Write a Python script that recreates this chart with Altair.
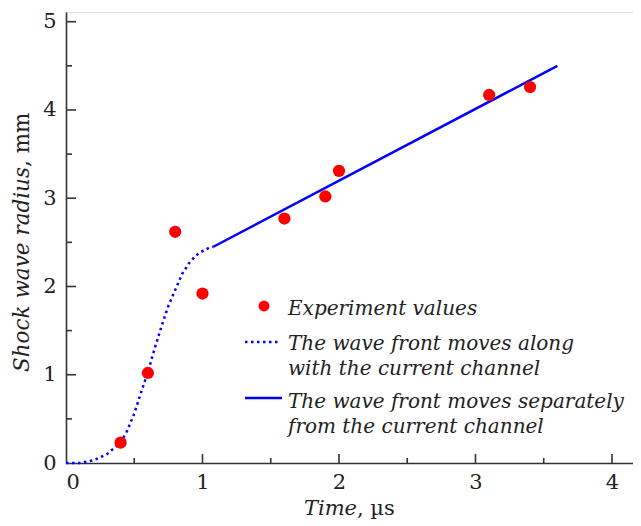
import altair as alt
import pandas as pd

# ---- data ----
exp_time = [0.4, 0.6, 0.8, 1.0, 1.6, 1.9, 2.0, 3.1, 3.4]
exp_radius = [0.23, 1.02, 2.62, 1.92, 2.77, 3.02, 3.31, 4.17, 4.26]

along_time = [0, 0.1, 0.2, 0.3, 0.4, 0.45, 0.5, 0.55, 0.6, 0.65, 0.7, 0.75,
              0.8, 0.85, 0.9, 0.95, 1.0, 1.05, 1.08]
along_radius = [0, 0.0, 0.03, 0.1, 0.23, 0.37, 0.56, 0.8, 1.03, 1.3, 1.55, 1.78,
                1.96, 2.14, 2.26, 2.35, 2.4, 2.44, 2.45]

separate_time = [1.08, 3.6]
separate_radius = [2.45, 4.5]

x_major = [1, 2, 3, 4]
x_minor = [0.5, 1.5, 2.5, 3.5]
y_major = [1, 2, 3, 4, 5]
y_minor = [0.5, 1.5, 2.5, 3.5, 4.5]
x_labels = [0, 1, 2, 3, 4]
y_labels = [0, 1, 2, 3, 4, 5]

legend_labels = [
    "Experiment values",
    "The wave front moves along\nwith the current channel",
    "The wave front moves separately\nfrom the current channel",
]
x_title = ["Time", ", \u00b5s"]
y_title = ["Shock wave radius", ", mm"]

FONT = "DejaVu Serif"
AX = "#333333"
TXT = "#222222"
BLUE = "#0000ff"
RED = "#ff0000"
W, H = 567, 451

xs = alt.Scale(domain=[0, 4.154], nice=False, zero=False)
ys = alt.Scale(domain=[0, 5.11], nice=False, zero=False)

x_axis = alt.Axis(values=x_labels, format="d", ticks=False, grid=False,
                  domainColor=AX, domainWidth=1.6, labelFont=FONT,
                  labelFontSize=21, labelColor=TXT, labelPadding=8,
                  title=None)
y_axis = alt.Axis(values=y_labels, format="d", ticks=False, grid=False,
                  domainColor=AX, domainWidth=1.6, labelFont=FONT,
                  labelFontSize=21, labelColor=TXT, labelPadding=10,
                  title=None)

exp_df = pd.DataFrame({"t": exp_time, "r": exp_radius})
along_df = pd.DataFrame({"t": along_time, "r": along_radius})
sep_df = pd.DataFrame({"t": separate_time, "r": separate_radius})

points = alt.Chart(exp_df).mark_circle(size=150, opacity=1, color=RED).encode(
    x=alt.X("t:Q", scale=xs, axis=x_axis),
    y=alt.Y("r:Q", scale=ys, axis=y_axis),
)

along = alt.Chart(along_df).mark_line(color=BLUE, strokeWidth=2.5,
                                      strokeDash=[2.5, 3.5]).encode(
    x=alt.X("t:Q", scale=xs, axis=x_axis),
    y=alt.Y("r:Q", scale=ys, axis=y_axis),
)

separate = alt.Chart(sep_df).mark_line(color=BLUE, strokeWidth=2.5).encode(
    x=alt.X("t:Q", scale=xs, axis=x_axis),
    y=alt.Y("r:Q", scale=ys, axis=y_axis),
)

def xticks(vals, length):
    return alt.Chart(pd.DataFrame({"v": vals})).mark_rule(
        color=AX, strokeWidth=1.6).encode(
        x=alt.X("v:Q", scale=xs, axis=x_axis),
        y=alt.value(H), y2=alt.value(H - length))

def yticks(vals, length):
    return alt.Chart(pd.DataFrame({"v": vals})).mark_rule(
        color=AX, strokeWidth=1.6).encode(
        y=alt.Y("v:Q", scale=ys, axis=y_axis),
        x=alt.value(0), x2=alt.value(length))

one = pd.DataFrame({"k": [0]})

XT_Y = 503

xt1 = alt.Chart(pd.DataFrame({"s": [x_title[0]]})).mark_text(
    font=FONT, fontSize=21, fontStyle="italic", align="right",
    baseline="alphabetic", color=TXT).encode(
    text="s:N", x=alt.value(291), y=alt.value(XT_Y))
xt2 = alt.Chart(pd.DataFrame({"s": [x_title[1]]})).mark_text(
    font=FONT, fontSize=21, align="left",
    baseline="alphabetic", color=TXT).encode(
    text="s:N", x=alt.value(291), y=alt.value(XT_Y))
yt1 = alt.Chart(pd.DataFrame({"s": [y_title[0]]})).mark_text(
    font=FONT, fontSize=21.5, fontStyle="italic", align="right", angle=270,
    baseline="alphabetic", color=TXT).encode(
    text="s:N", x=alt.value(-37), y=alt.value(155))
yt2 = alt.Chart(pd.DataFrame({"s": [y_title[1]]})).mark_text(
    font=FONT, fontSize=21.5, align="left", angle=270,
    baseline="alphabetic", color=TXT).encode(
    text="s:N", x=alt.value(-37), y=alt.value(155))

leg_dot = alt.Chart(one).mark_circle(size=120, opacity=1, color=RED).encode(
    x=alt.value(198), y=alt.value(294))
leg_dotted = alt.Chart(one).mark_rule(color=BLUE, strokeWidth=2.5,
                                      strokeDash=[2.5, 3.5]).encode(
    x=alt.value(179), x2=alt.value(214), y=alt.value(330))
leg_solid = alt.Chart(one).mark_rule(color=BLUE, strokeWidth=2.5).encode(
    x=alt.value(179), x2=alt.value(216), y=alt.value(386))

def leg_text(label, ypos):
    return alt.Chart(pd.DataFrame({"s": [label]})).mark_text(
        font=FONT, fontSize=20, fontStyle="italic", align="left",
        baseline="alphabetic", lineBreak="\n", lineHeight=25,
        color=TXT).encode(
        text="s:N", x=alt.value(222), y=alt.value(ypos))

chart = alt.layer(
    xticks(x_major, 9), xticks(x_minor, 5),
    yticks(y_major, 10), yticks(y_minor, 6),
    along, separate, points,
    xt1, xt2, yt1, yt2,
    leg_dot, leg_dotted, leg_solid,
    leg_text(legend_labels[0], 303),
    leg_text(legend_labels[1], 338),
    leg_text(legend_labels[2], 396),
).properties(
    width=W, height=H,
    autosize=alt.AutoSizeParams(type="none"),
    padding={"left": 58, "top": 4, "right": 0, "bottom": 62},
).configure_view(strokeWidth=0).configure(background="white")

chart.save("out.html", embed_options={"renderer": "svg", "actions": False})
